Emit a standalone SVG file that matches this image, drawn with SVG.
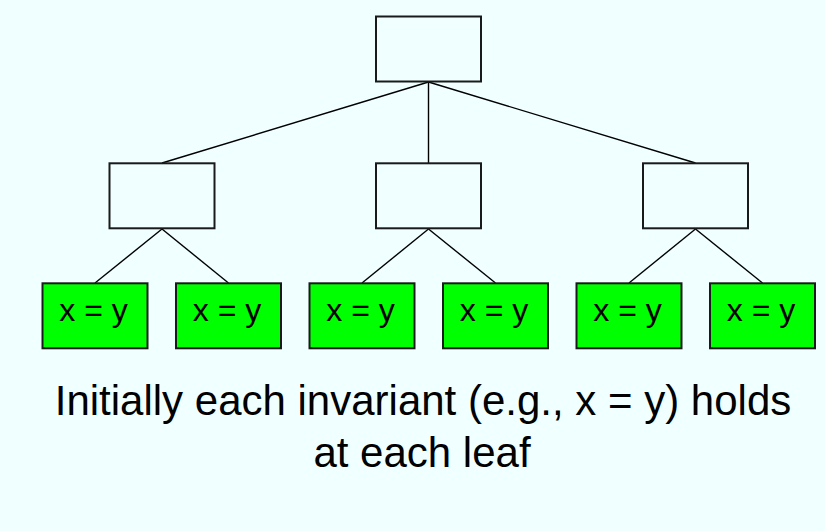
<svg xmlns="http://www.w3.org/2000/svg" width="825" height="531" viewBox="0 0 825 531">
<style>
.box{fill:#F0FFFF;stroke:#1a1a1a;stroke-width:2}
.leaf{fill:#00FF00;stroke:#1a1a1a;stroke-width:2}
.edge{stroke:#000;stroke-width:1.4;fill:none}
.lt{font-family:"Liberation Sans",Arial,Helvetica,sans-serif;font-size:32px;fill:#000;text-anchor:middle}
.cap{font-family:"Liberation Sans",Arial,Helvetica,sans-serif;font-size:42px;fill:#000;text-anchor:middle}
</style>
<rect x="0" y="0" width="825" height="531" fill="#F0FFFF"/>
<g id="connectors">
<line class="edge" x1="428.5" y1="82" x2="162" y2="163"/>
<line class="edge" x1="428.5" y1="82" x2="428.5" y2="163"/>
<line class="edge" x1="428.5" y1="82" x2="695.5" y2="163"/>
<line class="edge" x1="162" y1="229" x2="95" y2="283"/>
<line class="edge" x1="162" y1="229" x2="228.5" y2="283"/>
<line class="edge" x1="428.5" y1="229" x2="362" y2="283"/>
<line class="edge" x1="428.5" y1="229" x2="495.5" y2="283"/>
<line class="edge" x1="695.5" y1="229" x2="629" y2="283"/>
<line class="edge" x1="695.5" y1="229" x2="762.5" y2="283"/>
</g>
<g id="root"><rect class="box" x="376" y="16.5" width="105" height="65"/></g>
<g id="mid1"><rect class="box" x="109.5" y="163.3" width="105" height="65"/></g>
<g id="mid2"><rect class="box" x="376" y="163.3" width="105" height="65"/></g>
<g id="mid3"><rect class="box" x="643" y="163.3" width="105" height="65"/></g>
<g id="leaf1"><rect class="leaf" x="42.5" y="283.3" width="105" height="65"/><text class="lt" x="93.5" y="321">x = y</text></g>
<g id="leaf2"><rect class="leaf" x="176" y="283.3" width="105" height="65"/><text class="lt" x="227" y="321">x = y</text></g>
<g id="leaf3"><rect class="leaf" x="309.5" y="283.3" width="105" height="65"/><text class="lt" x="360.5" y="321">x = y</text></g>
<g id="leaf4"><rect class="leaf" x="443" y="283.3" width="105" height="65"/><text class="lt" x="494" y="321">x = y</text></g>
<g id="leaf5"><rect class="leaf" x="576.5" y="283.3" width="105" height="65"/><text class="lt" x="627.5" y="321">x = y</text></g>
<g id="leaf6"><rect class="leaf" x="710" y="283.3" width="105" height="65"/><text class="lt" x="761" y="321">x = y</text></g>
<g id="caption">
<text class="cap" x="423" y="415">Initially each invariant (e.g., x = y) holds</text>
<text class="cap" x="422" y="466.5">at each leaf</text>
</g>
</svg>
